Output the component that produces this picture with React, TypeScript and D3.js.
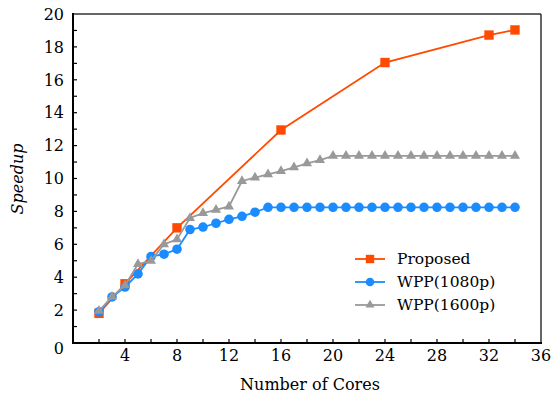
import React from "react";
import * as d3 from "d3";

const seriesNames = ["Proposed", "WPP(1080p)", "WPP(1600p)"];
const proposedX = [2, 4, 8, 16, 24, 32, 34];
const proposedY = [1.8, 3.6, 7.0, 12.95, 17.05, 18.72, 19.03];
const wppX = [2, 3, 4, 5, 6, 7, 8, 9, 10, 11, 12, 13, 14, 15, 16, 17, 18, 19, 20, 21, 22, 23, 24, 25, 26, 27, 28, 29, 30, 31, 32, 33, 34];
const wpp1080Y = [1.9, 2.8, 3.4, 4.2, 5.25, 5.4, 5.7, 6.9, 7.05, 7.28, 7.52, 7.7, 7.95, 8.25, 8.25, 8.25, 8.25, 8.25, 8.25, 8.25, 8.25, 8.25, 8.25, 8.25, 8.25, 8.25, 8.25, 8.25, 8.25, 8.25, 8.25, 8.25, 8.25];
const wpp1600Y = [1.95, 2.8, 3.5, 4.8, 5.0, 6.0, 6.3, 7.6, 7.9, 8.1, 8.3, 9.85, 10.05, 10.25, 10.45, 10.68, 10.92, 11.12, 11.38, 11.38, 11.38, 11.38, 11.38, 11.38, 11.38, 11.38, 11.38, 11.38, 11.38, 11.38, 11.38, 11.38, 11.38];
const xTickLabels = [4, 8, 12, 16, 20, 24, 28, 32, 36];
const yTickLabels = [2, 4, 6, 8, 10, 12, 14, 16, 18, 20];

const COLORS = ["#ff4a00", "#1a8cff", "#999999"];
const FONT = "DejaVu Serif";

export default function App() {
  const W = 551, H = 396;
  const L = 73, R = 541, T = 14, B = 343;
  const x = d3.scaleLinear().domain([0, 36]).range([L, R]);
  const y = d3.scaleLinear().domain([0, 20]).range([B, T]);
  const line = d3.line<[number, number]>().x(d => x(d[0])).y(d => y(d[1]));

  const series = [
    { name: seriesNames[0], pts: proposedX.map((v, i) => [v, proposedY[i]] as [number, number]), color: COLORS[0], sym: d3.symbolSquare, size: 88 },
    { name: seriesNames[1], pts: wppX.map((v, i) => [v, wpp1080Y[i]] as [number, number]), color: COLORS[1], sym: d3.symbolCircle, size: 72 },
    { name: seriesNames[2], pts: wppX.map((v, i) => [v, wpp1600Y[i]] as [number, number]), color: COLORS[2], sym: d3.symbolTriangle, size: 44 },
  ];

  const xMinor = d3.range(2, 36, 2);
  const yMinor = d3.range(1, 20, 1);

  return (
    <svg width={W} height={H} style={{ position: "absolute", left: 0, top: 0, background: "#fff" }}>
      <rect x={0} y={0} width={W} height={H} fill="#fff" />
      <line x1={L} y1={T} x2={R} y2={T} stroke="#333" strokeWidth={1.5} />
      <line x1={R} y1={T} x2={R} y2={B} stroke="#333" strokeWidth={1.5} />
      {xMinor.map(v => (
        <line key={"xt" + v} x1={x(v)} x2={x(v)} y1={B} y2={B - 4} stroke="#000" strokeWidth={1.2} />
      ))}
      {yMinor.map(v => (
        <line key={"yt" + v} x1={L} x2={L + 4} y1={y(v)} y2={y(v)} stroke="#000" strokeWidth={1.2} />
      ))}
      <line x1={L} y1={T - 1} x2={L} y2={B + 1} stroke="#000" strokeWidth={2} />
      <line x1={L - 1} y1={B} x2={R + 1} y2={B} stroke="#000" strokeWidth={2} />
      {xTickLabels.map(v => (
        <text key={"xl" + v} x={x(v)} y={361} textAnchor="middle" fontFamily={FONT} fontSize={16} fill="#000">{v}</text>
      ))}
      {yTickLabels.map(v => (
        <text key={"yl" + v} x={64} y={y(v)} dy="0.36em" textAnchor="end" fontFamily={FONT} fontSize={16} fill="#000">{v}</text>
      ))}
      <text x={64} y={354} textAnchor="end" fontFamily={FONT} fontSize={16} fill="#000">0</text>
      <text x={310} y={390} textAnchor="middle" fontFamily={FONT} fontSize={16} fill="#000">Number of Cores</text>
      <text transform={`translate(23,179) rotate(-90)`} textAnchor="middle" fontFamily={FONT} fontSize={16} fontStyle="italic" fill="#000">Speedup</text>
      {series.map(s => (
        <g key={s.name}>
          <path d={line(s.pts) || ""} fill="none" stroke={s.color} strokeWidth={1.8} />
          {s.pts.map((p, i) => (
            <path key={i} transform={`translate(${x(p[0])},${y(p[1])})`} d={d3.symbol().type(s.sym).size(s.size)() || ""} fill={s.color} />
          ))}
        </g>
      ))}
      {series.map((s, i) => {
        const ly = 259 + i * 23;
        return (
          <g key={"lg" + s.name}>
            <line x1={355} x2={385} y1={ly} y2={ly} stroke={s.color} strokeWidth={1.8} />
            <path transform={`translate(370,${ly})`} d={d3.symbol().type(s.sym).size(s.size * 0.8)() || ""} fill={s.color} />
            <text x={397} y={ly} dy="0.35em" fontFamily={FONT} fontSize={15.5} fill="#000">{s.name}</text>
          </g>
        );
      })}
    </svg>
  );
}
